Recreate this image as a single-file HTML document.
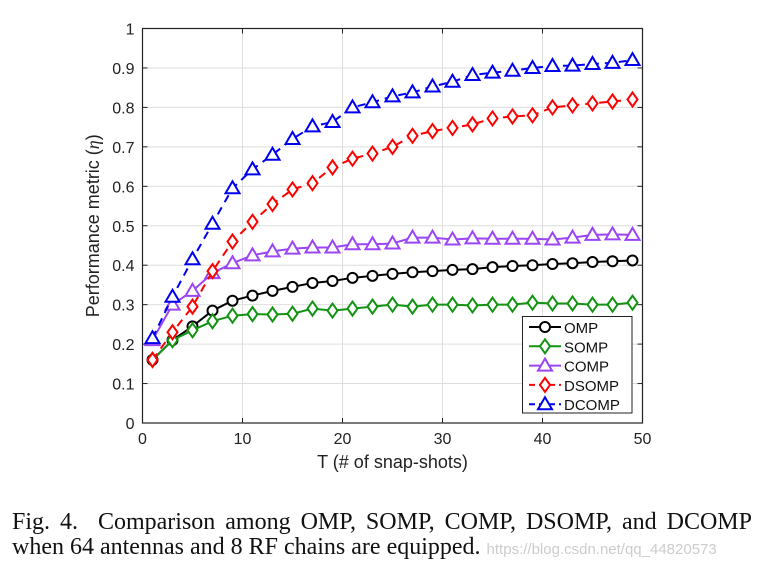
<!DOCTYPE html>
<html><head><meta charset="utf-8"><style>
html,body{margin:0;padding:0;background:#fff;width:758px;height:569px;overflow:hidden}
svg{display:block}
.cap{position:absolute;left:12px;width:740px;font-family:"Liberation Serif",serif;font-size:24px;color:#111;line-height:25px;white-space:nowrap}
</style></head><body>
<div style="position:relative;width:758px;height:569px">
<svg id="chart" width="758" height="569"></svg>
<div class="cap" style="top:510px;text-align:justify;text-align-last:justify;white-space:normal">Fig. 4.&nbsp; Comparison among OMP, SOMP, COMP, DSOMP, and DCOMP</div>
<div class="cap" style="top:535px">when 64 antennas and 8 RF chains are equipped. <span style="font-family:'Liberation Sans',sans-serif;font-size:15px;color:#ccc">https://blog.csdn.net/qq_44820573</span></div>
</div>
<script>
const xs=[1,3,5,7,9,11,13,15,17,19,21,23,25,27,29,31,33,35,37,39,41,43,45,47,49];
const omp=[.16,.21,.245,.285,.31,.323,.335,.345,.355,.36,.368,.373,.378,.382,.385,.388,.39,.395,.398,.4,.403,.405,.408,.41,.412];
const somp=[.16,.21,.235,.258,.272,.276,.275,.277,.29,.285,.29,.295,.3,.295,.3,.3,.298,.3,.3,.305,.303,.303,.3,.3,.305];
const comp=[.21,.3,.335,.38,.405,.425,.435,.442,.445,.445,.453,.453,.455,.47,.47,.465,.468,.467,.467,.467,.465,.47,.477,.478,.477];
const dsomp=[.16,.23,.295,.385,.46,.51,.555,.592,.608,.648,.67,.683,.7,.728,.74,.748,.757,.772,.777,.78,.8,.805,.81,.815,.82];
const dcomp=[.215,.32,.415,.505,.595,.643,.68,.72,.752,.763,.8,.813,.828,.838,.853,.865,.882,.888,.893,.9,.905,.906,.91,.913,.92];
const xTicks=[0,10,20,30,40,50];
const yTicks=[0,0.1,0.2,0.3,0.4,0.5,0.6,0.7,0.8,0.9,1];
const seriesNames=["OMP","SOMP","COMP","DSOMP","DCOMP"];
const L=142.5,R=642.5,T=28.5,B=423;
const X=v=>L+(v/50)*(R-L), Y=v=>B-v*(B-T);
const NS="http://www.w3.org/2000/svg", svg=document.getElementById('chart');
function mk(t,a,p){const e=document.createElementNS(NS,t);for(const k in a)e.setAttribute(k,a[k]);(p||svg).appendChild(e);return e;}
const fnt='font-family:"Liberation Sans",sans-serif;font-size:16px';
mk('rect',{x:L,y:T,width:R-L,height:B-T,fill:'#fff'});
xTicks.forEach(t=>{
 const g=mk('line',{x1:X(t),x2:X(t),y1:T,y2:B,stroke:'#dedede'});
 
 
 mk('line',{x1:X(t),x2:X(t),y1:B,y2:B-5,stroke:'#222'});
 mk('line',{x1:X(t),x2:X(t),y1:T,y2:T+5,stroke:'#222'});
 const tx=mk('text',{x:X(t),y:B+21,'text-anchor':'middle',style:fnt,fill:'#222'});tx.textContent=t;
 
 
});
yTicks.forEach(t=>{
 const g=mk('line',{x1:L,x2:R,y1:Y(t),y2:Y(t),stroke:'#dedede'});
 
 
 mk('line',{x1:L,x2:L+5,y1:Y(t),y2:Y(t),stroke:'#222'});
 mk('line',{x1:R,x2:R-5,y1:Y(t),y2:Y(t),stroke:'#222'});
 const tx=mk('text',{x:L-8,y:Y(t)+6,'text-anchor':'end',style:fnt,fill:'#222'});tx.textContent=String(t);
 
 
});
const fr=mk('rect',{x:L,y:T,width:R-L,height:B-T,fill:'none',stroke:'#222','stroke-width':1.2});


const xl=mk('text',{x:(L+R)/2,y:468,'text-anchor':'middle',style:'font-family:"Liberation Sans",sans-serif;font-size:18px',fill:'#222'});xl.textContent='T (# of snap-shots)';


const yl=mk('text',{x:0,y:0,'text-anchor':'middle',transform:`translate(99,${(T+B)/2}) rotate(-90)`,style:'font-family:"Liberation Sans",sans-serif;font-size:18px',fill:'#222'});
yl.innerHTML='Performance metric (<tspan font-family="Liberation Serif" font-style="italic">η</tspan>)';


function marker(g,type,x,y,c){
 if(type==='o')mk('circle',{cx:x,cy:y,r:5,fill:'#fff',stroke:c,'stroke-width':2},g);
 else if(type==='d')mk('polygon',{points:`${x},${y-7} ${x+5},${y} ${x},${y+7} ${x-5},${y}`,fill:'#fff',stroke:c,'stroke-width':2},g);
 else mk('polygon',{points:`${x},${y-7} ${x+7},${y+5} ${x-7},${y+5}`,fill:'#fff',stroke:c,'stroke-width':2},g);
}
const defs=[[omp,'#000','o',null,'omp-line'],[somp,'#129412','d',null,'somp-line'],[comp,'#9b45f5','^',null,'comp-line'],[dsomp,'#f00','d','8,6','dsomp-line'],[dcomp,'#0000f0','^','8,6','dcomp-line']];
defs.forEach(([d,c,m,da,name])=>{
 const g=mk('g',{});
 
 
 const a={points:xs.map((x,i)=>X(x)+','+Y(d[i])).join(' '),fill:'none',stroke:c,'stroke-width':2};
 if(da)a['stroke-dasharray']=da;
 mk('polyline',a,g);
 xs.forEach((x,i)=>marker(g,m,X(x),Y(d[i]),c));
});
const lg=mk('g',{});


mk('rect',{x:522.5,y:316.5,width:109.5,height:96.5,fill:'#fff',stroke:'#222'},lg);
defs.forEach(([d,c,m,da],i)=>{
 const y=327+i*19.3;
 const e=mk('g',{},lg);
 
 
 const a={x1:529,x2:561,y1:y,y2:y,stroke:c,'stroke-width':2};if(da)a['stroke-dasharray']='6,4';
 mk('line',a,e);marker(e,m,545,y,c);
 const t=mk('text',{x:564,y:y+6,style:'font-family:"Liberation Sans",sans-serif;font-size:15px',fill:'#111'},e);t.textContent=seriesNames[i];
});
</script>
</body></html>
